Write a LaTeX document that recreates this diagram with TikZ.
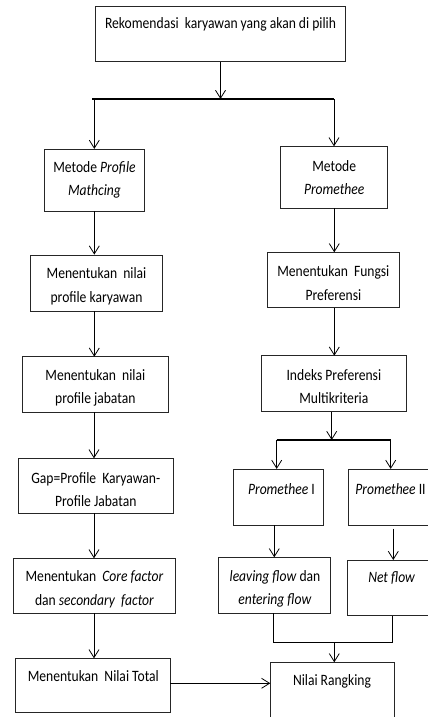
\documentclass[tikz,border=0pt]{standalone}
\usepackage{fontspec}
\setmainfont{Carlito}[FakeStretch=0.86]
\usetikzlibrary{arrows.meta}
\begin{document}
\begin{tikzpicture}[x=1pt,y=-1pt,
  box/.style={draw=black!85,line width=0.8pt,inner sep=0pt},
  txt/.style={font=\fontsize{15.8}{23.5}\selectfont,align=center,inner sep=0pt},
  arr/.style={line width=0.8pt,-{Straight Barb[length=8pt,width=10pt,line width=0.8pt]}},
  ln/.style={line width=0.8pt},
  bar/.style={line width=1.6pt}]
\useasboundingbox (0,0) rectangle (428,717);
\clip (0,0) rectangle (428,717);
% boxes
\node[box,minimum width=249.6pt,minimum height=55.7pt] (T) at (220.5,33.85) {};
\node[box,minimum width=100pt,minimum height=61.7pt] (PM) at (94.3,180.15) {};
\node[box,minimum width=107pt,minimum height=61.6pt] (PR) at (334.2,177.5) {};
\node[box,minimum width=131.6pt,minimum height=56pt] (K1) at (96.5,283) {};
\node[box,minimum width=146pt,minimum height=55.6pt] (K2) at (95.3,384.5) {};
\node[box,minimum width=155pt,minimum height=55pt] (G) at (95.8,485.8) {};
\node[box,minimum width=162.4pt,minimum height=55pt] (C) at (94.5,585.8) {};
\node[box,minimum width=155pt,minimum height=54.4pt] (NT) at (92.5,685.5) {};
\node[box,minimum width=131.3pt,minimum height=55.4pt] (F) at (333.35,280) {};
\node[box,minimum width=145.7pt,minimum height=56pt] (I) at (333.85,383.7) {};
\node[box,minimum width=90pt,minimum height=55.7pt] (P1) at (278.3,497.15) {};
\node[box,minimum width=82pt,minimum height=55.7pt] (P2) at (389.3,497.15) {};
\node[box,minimum width=111.7pt,minimum height=56pt] (L) at (274.15,585.3) {};
\node[box,minimum width=82pt,minimum height=55.7pt] (N) at (388.7,587.85) {};
\node[box,minimum width=123.6pt,minimum height=60pt] (R) at (332.5,692.7) {};
% texts
\node[txt] (tT) at (220.5,24) {Rekomendasi\ \ karyawan\ yang akan di pilih};
\node[txt] (tPM) at (94.5,180) {Metode \textit{Profile}\\\textit{Mathcing}};
\node[txt] (tPR) at (334.2,177.5) {Metode\\\textit{Promethee}};
\node[txt] (tK1) at (96.5,286.5) {Menentukan\ \ nilai\\profile karyawan};
\node[txt] (tK2) at (95.3,387.8) {Menentukan\ \ nilai\\profile jabatan};
\node[txt] (tG) at (95.8,489.5) {Gap=Profile\ \ Karyawan-\\Profile Jabatan};
\node[txt] (tC) at (94.5,589.2) {Menentukan\ \ \textit{Core factor}\\dan \textit{secondary\ \ factor}};
\node[txt] (tNT) at (93.3,676.5) {Menentukan\ \ Nilai Total};
\node[txt] (tF) at (333.35,283.3) {Menentukan\ \ Fungsi\\Preferensi};
\node[txt] (tI) at (333.85,386.5) {Indeks Preferensi\\Multikriteria};
\node[txt] (tP1) at (281.5,489.2) {\textit{Promethee} I};
\node[txt] (tP2) at (390.5,489.2) {\textit{Promethee} II};
\node[txt] (tL) at (275,589) {\textit{leaving flow} dan\\\textit{entering flow}};
\node[txt] (tN) at (391.7,577.5) {\textit{Net flow}};
\node[txt] (tR) at (332,681.5) {Nilai Rangking};
% junction coordinates
\coordinate (b1l) at (92.3,99);
\coordinate (b1r) at (334,99);
\coordinate (b1m) at (220.5,99);
\coordinate (b2l) at (276.7,440);
\coordinate (b2r) at (390.7,440);
\coordinate (b2m) at (331.7,440);
\coordinate (j1) at (273.3,642.7);
\coordinate (j2) at (392.7,642.7);
\coordinate (jm) at (334.3,642.7);
% connectors
\draw[arr] (T.south) -- (b1m);
\draw[bar] (b1l) -- (b1r);
\draw[arr] (94.3,99) -- (94.3,99 |- PM.north);
\draw[arr] (b1r) -- (b1r |- PR.north);
\draw[arr] (PM.south) -- (PM.south |- K1.north);
\draw[arr] (94.3,311) -- (94.3,356.7);
\draw[arr] (94,412.3) -- (94,458.3);
\draw[arr] (94,513.3) -- (94,558.3);
\draw[arr] (94,613.3) -- (94,658.3);
\draw[arr] (334.3,208.3) -- (334.3,252.3);
\draw[arr] (334.3,307.7) -- (334.3,355.7);
\draw[arr] (b2m |- I.south) -- (b2m);
\draw[bar] (b2l) -- (b2r);
\draw[arr] (b2l) -- (b2l |- P1.north);
\draw[arr] (b2r) -- (b2r |- P2.north);
\draw[arr] (274.3,525) -- (274.3,557.3);
\draw[arr] (393.3,528.5) -- (393.3,560);
\draw[ln] (273.3,613.3) -- (j1) -- (j2) -- (392.7,615.7);
\draw[arr] (jm) -- (jm |- R.north);
\draw[arr,line width=1.1pt] (NT.east |- 0,683.3) -- (R.west |- 0,683.3);
\end{tikzpicture}
\end{document}
